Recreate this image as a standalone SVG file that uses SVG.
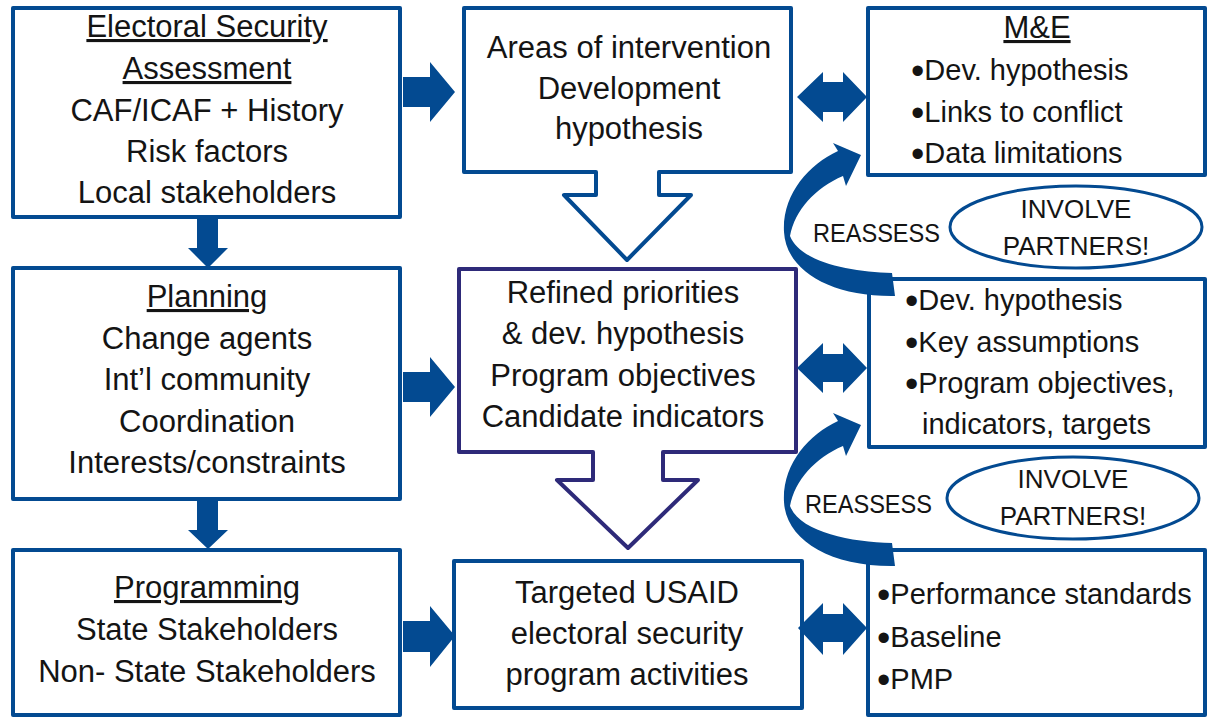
<svg xmlns="http://www.w3.org/2000/svg" width="1212" height="717" viewBox="0 0 1212 717">
<style>
.box{fill:#fff;stroke:#034a91;stroke-width:4;stroke-linejoin:round}
.box2{fill:#fff;stroke:#2e2a79;stroke-width:4;stroke-linejoin:round}
.arr{fill:#034a91;stroke:none}
.ell{fill:#fff;stroke:#034a91;stroke-width:3}
text{font-family:"Liberation Sans",Arial,sans-serif;fill:#141414}
.m{font-size:31px;text-anchor:middle}
.b{font-size:29px}
.bl{font-size:38px}
.s{font-size:26px;text-anchor:middle}
.u{text-decoration:underline}
</style>
<rect width="1212" height="717" fill="#fff"/>

<g id="node-assessment">
<rect class="box" x="13" y="8" width="387" height="209"/>
<text class="m u" x="207" y="37">Electoral Security</text>
<text class="m u" x="207" y="79">Assessment</text>
<text class="m" x="207" y="121">CAF/ICAF + History</text>
<text class="m" x="207" y="162">Risk factors</text>
<text class="m" x="207" y="203">Local stakeholders</text>
</g>

<g id="node-planning">
<rect class="box" x="13" y="268" width="387" height="231"/>
<text class="m u" x="207" y="307">Planning</text>
<text class="m" x="207" y="349">Change agents</text>
<text class="m" x="207" y="390">Int’l community</text>
<text class="m" x="207" y="432">Coordination</text>
<text class="m" x="207" y="473">Interests/constraints</text>
</g>

<g id="node-programming">
<rect class="box" x="13" y="550" width="387" height="165"/>
<text class="m u" x="207" y="598">Programming</text>
<text class="m" x="207" y="640">State Stakeholders</text>
<text class="m" x="207" y="682">Non- State Stakeholders</text>
</g>

<g id="node-areas">
<path class="box" d="M464,8 H791 V172 H659 V195 H691 L627,260 L564,195 H596 V172 H464 Z"/>
<text class="m" x="629" y="58">Areas of intervention</text>
<text class="m" x="629" y="99">Development</text>
<text class="m" x="629" y="139">hypothesis</text>
</g>

<g id="node-refined">
<path class="box2" d="M459,269 H796 V452 H663 V480 H698 L628,548 L557,480 H593 V452 H459 Z"/>
<text class="m" x="623" y="303">Refined priorities</text>
<text class="m" x="623" y="344">&amp; dev. hypothesis</text>
<text class="m" x="623" y="386">Program objectives</text>
<text class="m" x="623" y="427">Candidate indicators</text>
</g>

<g id="node-targeted">
<rect class="box" x="454" y="561" width="348" height="147"/>
<text class="m" x="627" y="603">Targeted USAID</text>
<text class="m" x="627" y="644">electoral security</text>
<text class="m" x="627" y="685">program activities</text>
</g>

<g id="node-me">
<rect class="box" x="868" y="8" width="337" height="167"/>
<text class="m u" x="1037" y="38">M&amp;E</text>
<text class="b" x="911" y="80"><tspan class="bl" dy="4">•</tspan><tspan dy="-4">Dev. hypothesis</tspan></text>
<text class="b" x="911" y="122"><tspan class="bl" dy="4">•</tspan><tspan dy="-4">Links to conflict</tspan></text>
<text class="b" x="911" y="163"><tspan class="bl" dy="4">•</tspan><tspan dy="-4">Data limitations</tspan></text>
</g>

<g id="node-hypothesis">
<rect class="box" x="869" y="279" width="336" height="168"/>
<text class="b" x="905" y="310"><tspan class="bl" dy="4">•</tspan><tspan dy="-4">Dev. hypothesis</tspan></text>
<text class="b" x="905" y="352"><tspan class="bl" dy="4">•</tspan><tspan dy="-4">Key assumptions</tspan></text>
<text class="b" x="905" y="393"><tspan class="bl" dy="4">•</tspan><tspan dy="-4">Program objectives,</tspan></text>
<text class="b" x="922" y="434">indicators, targets</text>
</g>

<g id="node-performance">
<rect class="box" x="868" y="550" width="337" height="165"/>
<text class="b" x="877" y="604"><tspan class="bl" dy="4">•</tspan><tspan dy="-4">Performance standards</tspan></text>
<text class="b" x="877" y="647"><tspan class="bl" dy="4">•</tspan><tspan dy="-4">Baseline</tspan></text>
<text class="b" x="877" y="689"><tspan class="bl" dy="4">•</tspan><tspan dy="-4">PMP</tspan></text>
</g>

<g id="node-partners1">
<ellipse class="ell" cx="1076" cy="227" rx="126" ry="41"/>
<text class="s" x="1076" y="218">INVOLVE</text>
<text class="s" x="1076" y="255">PARTNERS!</text>
</g>

<g id="node-partners2">
<ellipse class="ell" cx="1073" cy="498" rx="126" ry="41"/>
<text class="s" x="1073" y="488">INVOLVE</text>
<text class="s" x="1073" y="525">PARTNERS!</text>
</g>

<g id="connectors">
<polygon class="arr" points="403,77 430,77 430,62 455,92 430,122 430,107 403,107"/>
<polygon class="arr" points="403,372 430,372 430,357 455,387 430,417 430,402 403,402"/>
<polygon class="arr" points="403,621 430,621 430,606 455,636 430,667 430,652 403,652"/>
<polygon class="arr" points="197,217 218,217 218,248 228,248 208,268 188,248 197,248"/>
<polygon class="arr" points="197,499 218,499 218,530 228,530 208,549 188,530 197,530"/>
<polygon class="arr" points="797,97 823,72 823,82 843,82 843,72 867,97 843,122 843,112 823,112 823,122"/>
<polygon class="arr" points="797,368 823,343 823,354 843,354 843,343 867,368 843,393 843,382 823,382 823,393"/>
<polygon class="arr" points="798,628 823,603 823,614 843,614 843,603 867,628 843,655 843,642 823,642 823,655"/>
<path class="arr" d="M892,273 C850,272 800,262 790,236 C795,210 815,188 843,176 L846,186 L861,155 L833,143 L838,151 C808,165 782,195 784,232 C786,270 830,297 895,296 Z"/>
<path class="arr" transform="translate(0,270)" d="M892,273 C850,272 800,262 790,236 C795,210 815,188 843,176 L846,186 L861,155 L833,143 L838,151 C808,165 782,195 784,232 C786,270 830,297 895,296 Z"/>
<text x="813" y="242" font-size="25" textLength="127" lengthAdjust="spacingAndGlyphs">REASSESS</text>
<text x="805" y="513" font-size="25" textLength="127" lengthAdjust="spacingAndGlyphs">REASSESS</text>
</g>
</svg>
